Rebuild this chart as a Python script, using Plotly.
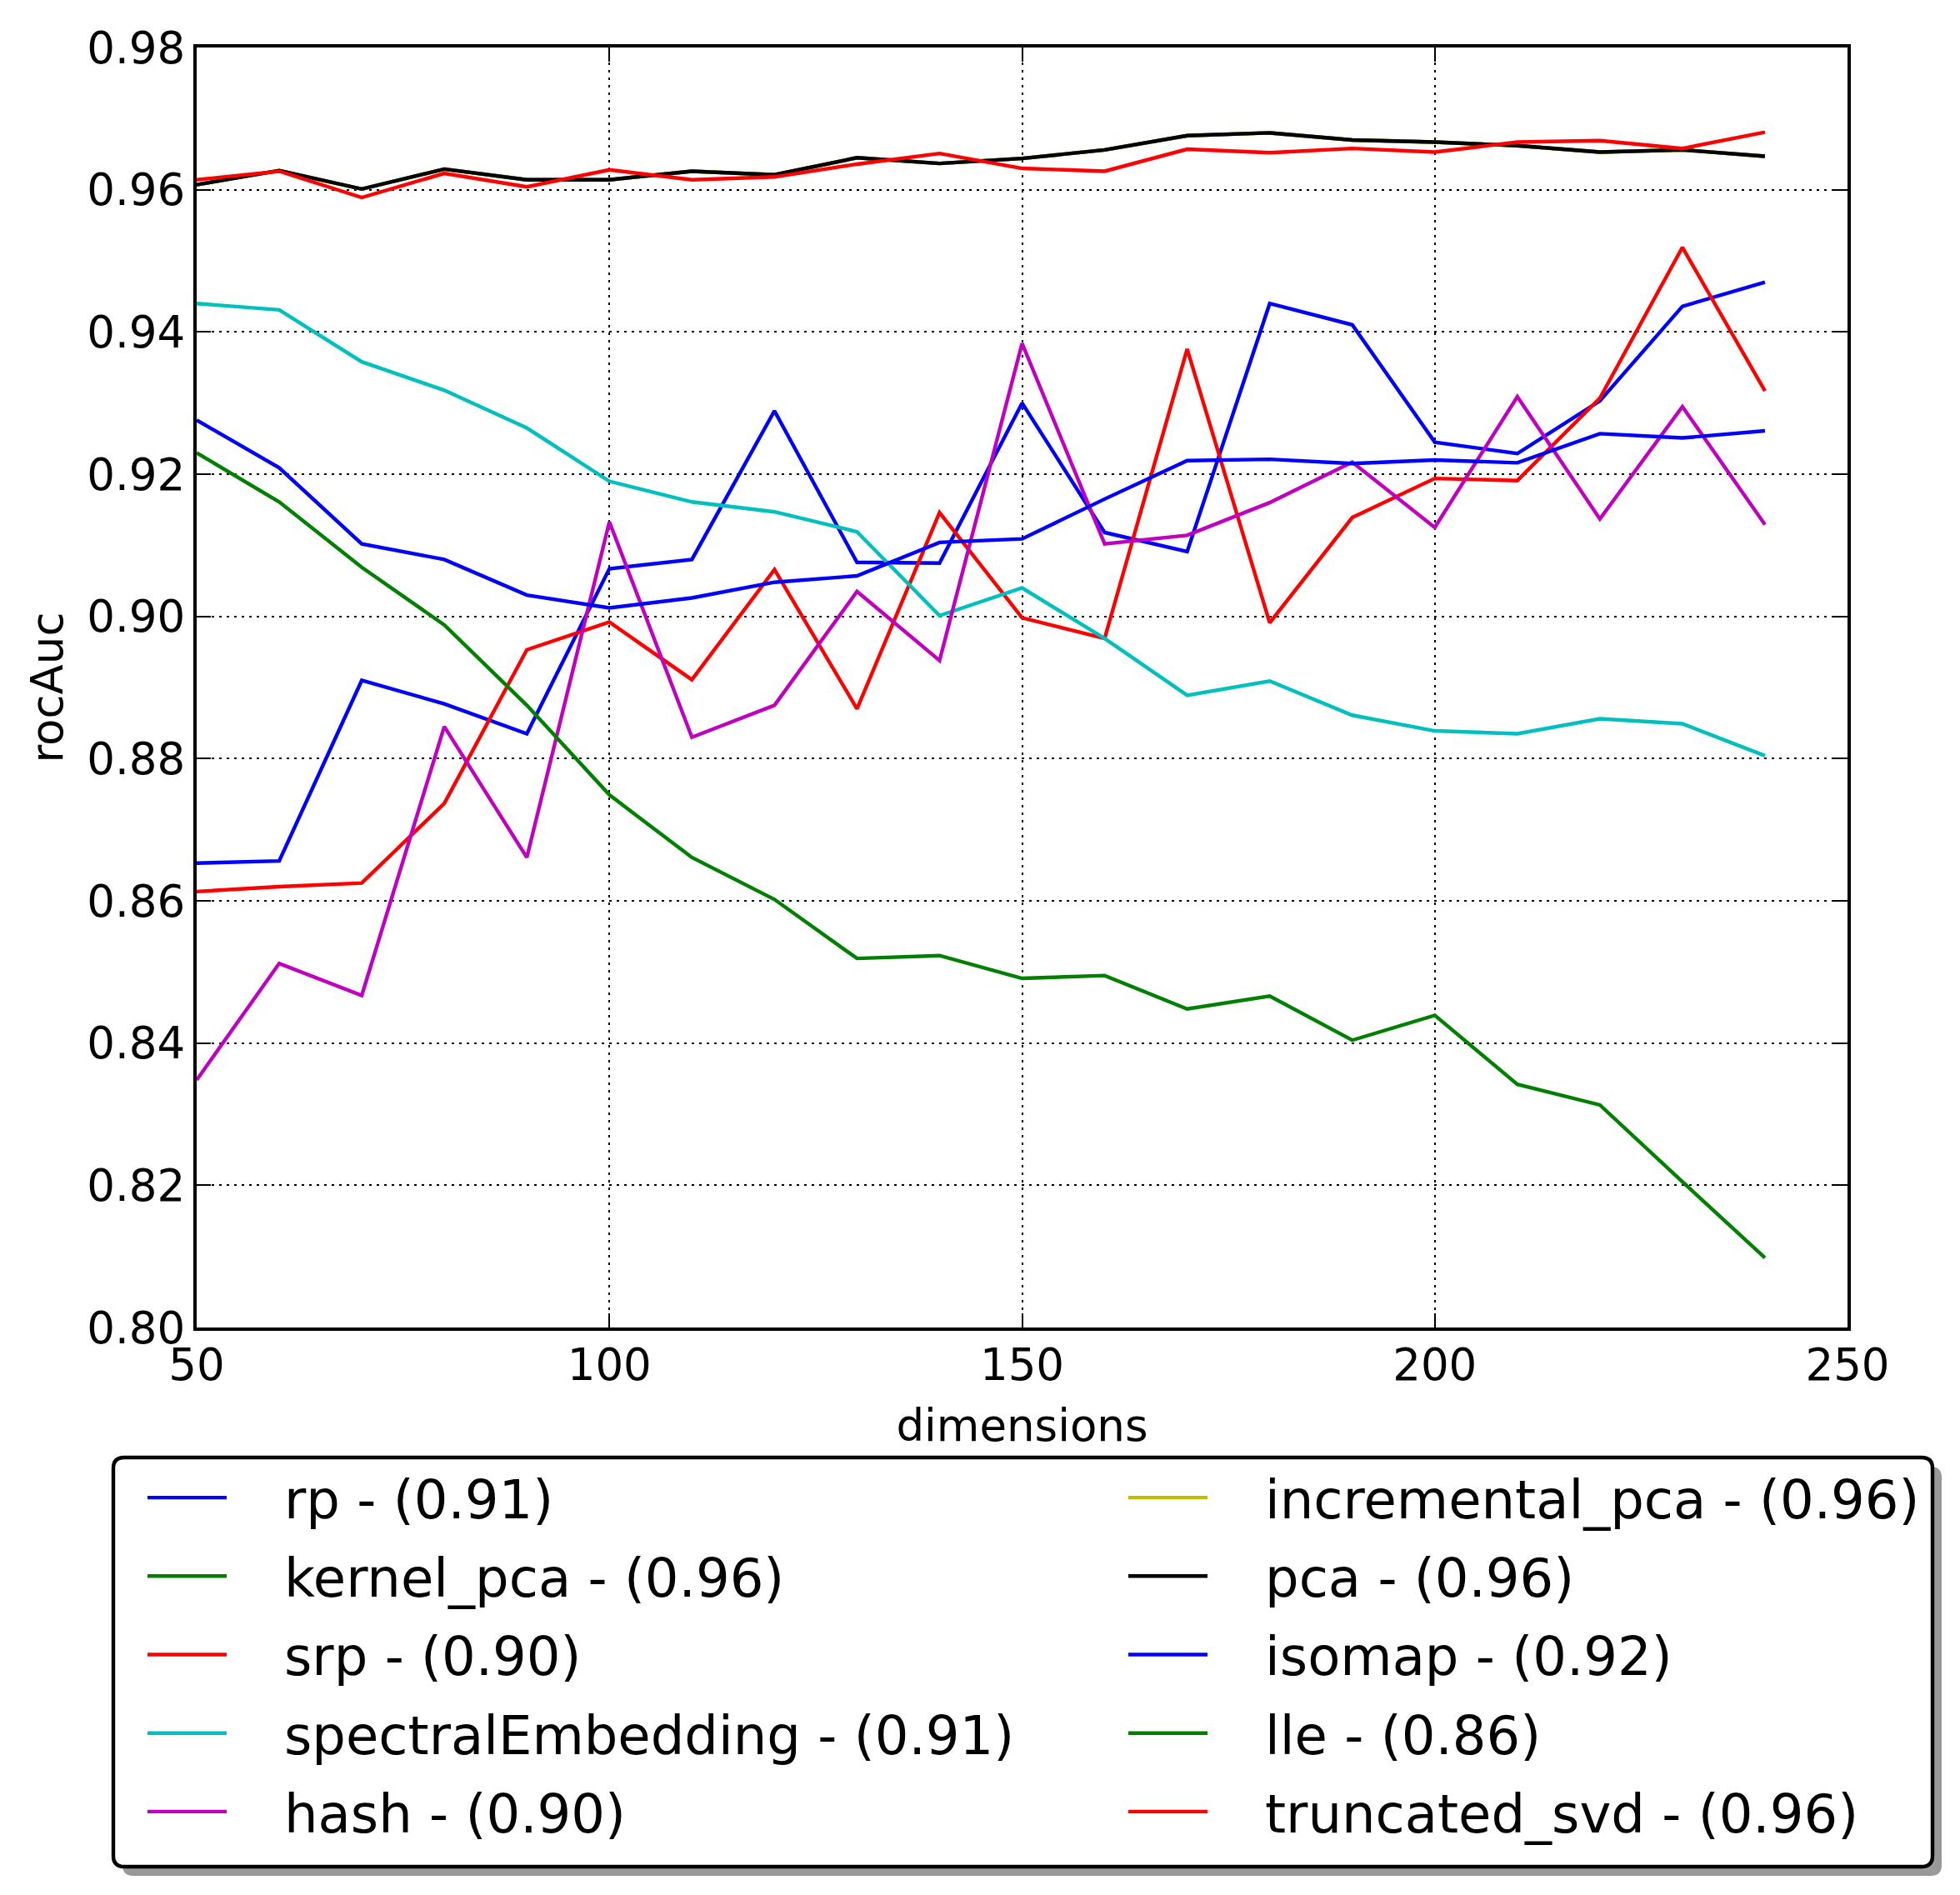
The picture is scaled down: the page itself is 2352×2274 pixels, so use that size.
import plotly.graph_objects as go

# dimensions on the x axis
dims = [50, 60, 70, 80, 90, 100, 110, 120, 130, 140,
        150, 160, 170, 180, 190, 200, 210, 220, 230, 240]

# rocAuc per method
rp = [0.8653, 0.8656, 0.8910, 0.8877, 0.8835, 0.9067, 0.9080, 0.9289, 0.9076, 0.9075,
      0.9300, 0.9118, 0.9091, 0.9440, 0.9410, 0.9245, 0.9229, 0.9303, 0.9436, 0.9470]
kernel_pca = [0.9607, 0.9627, 0.9601, 0.9629, 0.9614, 0.9614, 0.9626, 0.9621, 0.9645, 0.9637,
              0.9644, 0.9656, 0.9676, 0.9680, 0.9670, 0.9667, 0.9662, 0.9653, 0.9656, 0.9647]
srp = [0.8613, 0.8620, 0.8625, 0.8737, 0.8953, 0.8992, 0.8911, 0.9066, 0.8870, 0.9146,
       0.8998, 0.8969, 0.9376, 0.8991, 0.9139, 0.9194, 0.9191, 0.9307, 0.9519, 0.9317]
spectral = [0.9440, 0.9431, 0.9358, 0.9318, 0.9265, 0.9190, 0.9161, 0.9147, 0.9119, 0.9001,
            0.9040, 0.8969, 0.8889, 0.8909, 0.8861, 0.8839, 0.8835, 0.8856, 0.8849, 0.8804]
hash_ = [0.8348, 0.8512, 0.8467, 0.8845, 0.8661, 0.9133, 0.8830, 0.8875, 0.9035, 0.8938,
         0.9384, 0.9102, 0.9114, 0.9160, 0.9217, 0.9125, 0.9309, 0.9137, 0.9295, 0.9129]
incremental_pca = [0.9607, 0.9627, 0.9601, 0.9629, 0.9614, 0.9614, 0.9626, 0.9621, 0.9645, 0.9637,
                   0.9644, 0.9656, 0.9676, 0.9680, 0.9670, 0.9667, 0.9662, 0.9653, 0.9656, 0.9647]
pca = [0.9607, 0.9627, 0.9601, 0.9629, 0.9614, 0.9614, 0.9626, 0.9621, 0.9645, 0.9637,
       0.9644, 0.9656, 0.9676, 0.9680, 0.9670, 0.9667, 0.9662, 0.9653, 0.9656, 0.9647]
isomap = [0.9276, 0.9209, 0.9102, 0.9080, 0.9030, 0.9012, 0.9026, 0.9048, 0.9057, 0.9104,
          0.9109, 0.9165, 0.9219, 0.9221, 0.9215, 0.9220, 0.9216, 0.9257, 0.9251, 0.9261]
lle = [0.9230, 0.9161, 0.9069, 0.8988, 0.8875, 0.8749, 0.8661, 0.8602, 0.8519, 0.8523,
       0.8491, 0.8495, 0.8448, 0.8466, 0.8404, 0.8439, 0.8342, 0.8313, 0.8205, 0.8098]
truncated_svd = [0.9614, 0.9626, 0.9589, 0.9623, 0.9604, 0.9628, 0.9614, 0.9618, 0.9636, 0.9651,
                 0.9630, 0.9626, 0.9657, 0.9652, 0.9658, 0.9653, 0.9667, 0.9669, 0.9658, 0.9681]

labels = ["rp - (0.91)", "kernel_pca - (0.96)", "srp - (0.90)", "spectralEmbedding - (0.91)",
          "hash - (0.90)", "incremental_pca - (0.96)", "pca - (0.96)", "isomap - (0.92)",
          "lle - (0.86)", "truncated_svd - (0.96)"]
series = [rp, kernel_pca, srp, spectral, hash_, incremental_pca, pca, isomap, lle, truncated_svd]
colors = ["#0000ff", "#008000", "#ff0000", "#00bfbf", "#bf00bf",
          "#bfbf00", "#000000", "#0000ff", "#008000", "#ff0000"]

FONT = "DejaVu Sans"
PAGE_W, PAGE_H = 2352, 2274
BODY = 8  # default page margin around the plot div
L, R, T, B = 236, 2217, 57, 1593  # plot area, page pixels


def px(x):
    return (x - L) / (R - L)


def py(y):
    return (B - y) / (B - T)


fig = go.Figure()
for i, (name, vals, col) in enumerate(zip(labels, series, colors)):
    fig.add_trace(go.Scatter(
        x=dims, y=vals, mode="lines", name="\u2003" + name,
        line=dict(color=col, width=4.4),
        legend="legend" if i < 5 else "legend2",
        legendgroup=name,
    ))

axis_common = dict(
    showline=True, linecolor="black", linewidth=4.4, mirror="ticks",
    ticks="inside", ticklen=17, tickwidth=2.2, tickcolor="black",
    showgrid=True, gridcolor="black", gridwidth=2.4, griddash="3px,6px",
    zeroline=False, tickfont=dict(family=FONT, size=53, color="black"),
)

fig.update_xaxes(range=[50, 250], tickvals=[50, 100, 150, 200, 250],
                 title=dict(text="dimensions", font=dict(family=FONT, size=53, color="black"), standoff=26),
                 ticklabelstandoff=-5, **axis_common)
fig.update_yaxes(range=[0.80, 0.98], dtick=0.02, tick0=0.80, tickformat=".2f",
                 title=dict(text="rocAuc", font=dict(family=FONT, size=53, color="black"), standoff=13),
                 ticklabelstandoff=-1, **axis_common)

legend_common = dict(
    font=dict(family=FONT, size=64, color="black"),
    bgcolor="rgba(0,0,0,0)", borderwidth=0,
    orientation="v", traceorder="grouped", tracegroupgap=8,
    itemwidth=95, xanchor="left", yanchor="top",
)
fig.update_layout(
    width=PAGE_W - BODY, height=PAGE_H - BODY,
    margin=dict(l=L - BODY, r=PAGE_W - R, t=T - BODY, b=PAGE_H - B),
    paper_bgcolor="white", plot_bgcolor="white",
    font=dict(family=FONT, color="black"),
    legend=dict(x=px(172), y=py(1749), **legend_common),
    legend2=dict(x=px(1349), y=py(1749), **legend_common),
)


def rounded_box(x0, y0, x1, y1, r):
    # path in paper units, corners rounded by r pixels
    rx, ry = r / (R - L), r / (B - T)
    a, b, c, d = px(x0), px(x1), py(y0), py(y1)  # left, right, top, bottom
    return (f"M{a + rx},{c} L{b - rx},{c} Q{b},{c} {b},{c - ry} "
            f"L{b},{d + ry} Q{b},{d} {b - rx},{d} L{a + rx},{d} "
            f"Q{a},{d} {a},{d + ry} L{a},{c - ry} Q{a},{c} {a + rx},{c} Z")


# legend frame with drop shadow
fig.add_shape(type="path", xref="paper", yref="paper",
              path=rounded_box(147, 1760, 2330, 2251, 13),
              fillcolor="#999999", line=dict(width=0), layer="below")
fig.add_shape(type="path", xref="paper", yref="paper",
              path=rounded_box(136, 1749, 2319, 2240, 13),
              fillcolor="white", line=dict(color="black", width=4.4), layer="below")

fig.write_html("out.html")
